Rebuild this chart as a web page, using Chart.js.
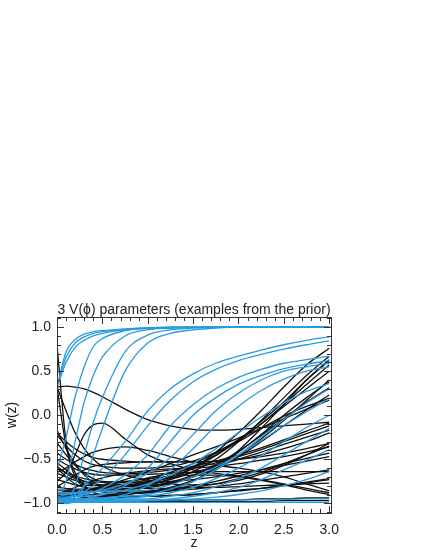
<!DOCTYPE html>
<html lang="en">
<head>
  <meta charset="UTF-8">
  <title>w(z) examples from the prior</title>
  <script src="https://cdn.jsdelivr.net/npm/chart.js"></script>
  <style>
    body { margin: 0; background: #fff; }
    #c { display: block; }
  </style>
</head>
<body>
  <canvas id="c" width="425" height="550"></canvas>
  <script>
    // redshift grid shared by every curve
    const Z = [0, 0.1, 0.2, 0.3, 0.4, 0.5, 0.75, 1, 1.25, 1.5, 1.75, 2, 2.25, 2.5, 2.75, 3];
    const X_TICKS = [0, 0.5, 1, 1.5, 2, 2.5, 3];
    const Y_TICKS = [-1, -0.5, 0, 0.5, 1];

    // blue curves
    const A1 = [0.32, 0.72, 0.86, 0.92, 0.95, 0.96, 0.98, 0.99, 1, 1, 1, 1, 1, 1, 1, 1];
    const A2 = [0.32, 0.66, 0.82, 0.89, 0.93, 0.95, 0.975, 0.99, 0.995, 1, 1, 1, 1, 1, 1, 1];
    const A3 = [0.32, 0.6, 0.77, 0.85, 0.9, 0.93, 0.97, 0.985, 0.99, 0.995, 1, 1, 1, 1, 1, 1];
    const P1 = [-0.62, -0.25, 0.21, 0.55, 0.78, 0.87, 0.96, 0.99, 1, 1, 1, 1, 1, 1, 1, 1];
    const P2 = [-0.97, -0.75, -0.3, 0.15, 0.45, 0.66, 0.9, 0.97, 0.99, 1, 1, 1, 1, 1, 1, 1];
    const P3 = [-1, -0.98, -0.8, -0.45, -0.08, 0.2, 0.72, 0.91, 0.97, 0.99, 1, 1, 1, 1, 1, 1];
    const P4 = [-1, -1, -0.97, -0.8, -0.45, -0.15, 0.5, 0.82, 0.93, 0.97, 0.99, 1, 1, 1, 1, 1];
    const C1 = [-0.97, -0.95, -0.9, -0.8, -0.7, -0.6, -0.3, 0.05, 0.3, 0.47, 0.59, 0.67, 0.74, 0.8, 0.85, 0.89];
    const C2 = [-0.98, -0.97, -0.93, -0.87, -0.8, -0.72, -0.45, -0.12, 0.17, 0.38, 0.52, 0.62, 0.69, 0.75, 0.8, 0.845];
    const C3 = [-0.95, -0.94, -0.92, -0.9, -0.87, -0.83, -0.68, -0.45, -0.12, 0.12, 0.3, 0.43, 0.52, 0.59, 0.63, 0.67];
    const C4 = [-0.97, -0.97, -0.96, -0.95, -0.93, -0.9, -0.8, -0.6, -0.3, 0, 0.2, 0.35, 0.45, 0.53, 0.58, 0.62];
    const C5 = [-0.9, -0.9, -0.89, -0.88, -0.87, -0.85, -0.78, -0.66, -0.48, -0.22, 0.05, 0.25, 0.4, 0.5, 0.55, 0.59];
    const C6 = [-0.99, -0.99, -0.98, -0.97, -0.96, -0.95, -0.9, -0.8, -0.62, -0.38, -0.12, 0.1, 0.28, 0.41, 0.5, 0.55];
    const C7 = [-0.93, -0.93, -0.92, -0.92, -0.91, -0.9, -0.85, -0.78, -0.68, -0.55, -0.38, -0.2, -0.02, 0.14, 0.27, 0.36];
    const C8 = [-0.96, -0.96, -0.95, -0.95, -0.94, -0.94, -0.92, -0.9, -0.84, -0.75, -0.62, -0.45, -0.25, -0.05, 0.14, 0.3];
    const C9 = [-0.88, -0.88, -0.88, -0.87, -0.87, -0.86, -0.86, -0.85, -0.79, -0.7, -0.59, -0.45, -0.29, -0.12, 0.04, 0.19];
    const C10 = [-0.98, -0.98, -0.97, -0.97, -0.96, -0.96, -0.94, -0.92, -0.88, -0.82, -0.72, -0.6, -0.46, -0.3, -0.14, 0];
    const C11 = [-0.95, -0.95, -0.95, -0.95, -0.95, -0.95, -0.95, -0.95, -0.92, -0.88, -0.81, -0.72, -0.6, -0.45, -0.3, -0.15];
    const C12 = [-0.99, -0.99, -0.99, -0.99, -0.98, -0.98, -0.98, -0.97, -0.95, -0.92, -0.88, -0.82, -0.73, -0.62, -0.51, -0.39];
    const C13 = [-0.97, -0.97, -0.97, -0.97, -0.97, -0.97, -0.97, -0.97, -0.96, -0.95, -0.93, -0.9, -0.86, -0.8, -0.73, -0.64];
    const C14 = [-0.96, -0.96, -0.96, -0.96, -0.96, -0.96, -0.96, -0.96, -0.96, -0.96, -0.96, -0.96, -0.96, -0.955, -0.95, -0.95];
    const C15 = [-0.99, -0.99, -0.99, -0.99, -0.99, -0.99, -0.99, -0.99, -0.99, -0.99, -0.99, -0.99, -0.99, -0.99, -0.99, -0.99];

    // black curves
    const K1 = [0.32, 0.33, 0.32, 0.3, 0.26, 0.21, 0.07, -0.05, -0.12, -0.16, -0.17, -0.16, -0.14, -0.12, -0.1, -0.08];
    const K2 = [0.8, -0.3, -0.65, -0.8, -0.85, -0.87, -0.88, -0.87, -0.85, -0.82, -0.78, -0.72, -0.65, -0.55, -0.45, -0.35];
    const K3 = [0.32, -0.35, -0.7, -0.82, -0.88, -0.9, -0.92, -0.92, -0.91, -0.9, -0.88, -0.86, -0.83, -0.8, -0.76, -0.72];
    const K4 = [-0.75, -0.65, -0.45, -0.22, -0.11, -0.09, -0.27, -0.45, -0.55, -0.62, -0.66, -0.69, -0.73, -0.78, -0.83, -0.88];
    const K5 = [-0.65, -0.6, -0.53, -0.47, -0.42, -0.39, -0.36, -0.4, -0.47, -0.53, -0.57, -0.6, -0.64, -0.7, -0.78, -0.86];
    const K6 = [-0.17, -0.38, -0.55, -0.68, -0.76, -0.8, -0.83, -0.82, -0.78, -0.7, -0.58, -0.42, -0.22, 0, 0.2, 0.38];
    const K7 = [-0.31, -0.45, -0.57, -0.66, -0.72, -0.76, -0.8, -0.8, -0.77, -0.7, -0.6, -0.47, -0.3, -0.12, 0.06, 0.23];
    const K8 = [-0.43, -0.5, -0.56, -0.6, -0.63, -0.65, -0.66, -0.65, -0.62, -0.58, -0.52, -0.45, -0.37, -0.28, -0.18, -0.09];
    const K9 = [-0.9, -0.9, -0.89, -0.88, -0.87, -0.86, -0.84, -0.8, -0.72, -0.6, -0.42, -0.2, 0.05, 0.32, 0.57, 0.76];
    const K10 = [-0.95, -0.93, -0.9, -0.87, -0.84, -0.82, -0.8, -0.78, -0.73, -0.64, -0.5, -0.3, -0.06, 0.2, 0.45, 0.67];
    const K11 = [-0.6, -0.7, -0.78, -0.82, -0.84, -0.85, -0.86, -0.86, -0.83, -0.75, -0.6, -0.4, -0.15, 0.12, 0.4, 0.63];
    const K12 = [-0.85, -0.85, -0.85, -0.84, -0.83, -0.82, -0.8, -0.77, -0.7, -0.6, -0.46, -0.29, -0.1, 0.1, 0.3, 0.5];
    const K13 = [-0.97, -0.96, -0.95, -0.94, -0.93, -0.92, -0.9, -0.87, -0.82, -0.74, -0.62, -0.46, -0.27, -0.06, 0.17, 0.4];
    const K14 = [-0.54, -0.62, -0.7, -0.75, -0.78, -0.8, -0.81, -0.8, -0.76, -0.68, -0.56, -0.41, -0.23, -0.04, 0.15, 0.31];
    const K15 = [-0.66, -0.7, -0.74, -0.77, -0.79, -0.8, -0.78, -0.73, -0.65, -0.55, -0.43, -0.3, -0.15, -0.01, 0.1, 0.19];
    const K16 = [-0.89, -0.88, -0.87, -0.85, -0.83, -0.8, -0.73, -0.64, -0.55, -0.45, -0.36, -0.26, -0.15, -0.04, 0.07, 0.17];
    const K17 = [-0.73, -0.76, -0.79, -0.8, -0.8, -0.79, -0.76, -0.71, -0.66, -0.6, -0.54, -0.47, -0.39, -0.3, -0.21, -0.12];
    const K18 = [-0.81, -0.75, -0.68, -0.62, -0.58, -0.56, -0.54, -0.53, -0.53, -0.53, -0.52, -0.5, -0.45, -0.38, -0.3, -0.2];
    const K19 = [-0.94, -0.92, -0.9, -0.88, -0.86, -0.84, -0.8, -0.76, -0.71, -0.65, -0.58, -0.5, -0.42, -0.33, -0.25, -0.17];
    const K20 = [-0.2, -0.3, -0.38, -0.44, -0.48, -0.5, -0.52, -0.53, -0.53, -0.53, -0.52, -0.5, -0.47, -0.43, -0.38, -0.32];
    const K21 = [-0.89, -0.86, -0.82, -0.78, -0.74, -0.71, -0.66, -0.63, -0.61, -0.6, -0.58, -0.55, -0.51, -0.47, -0.42, -0.36];
    const K22 = [-0.97, -0.96, -0.95, -0.94, -0.93, -0.92, -0.9, -0.87, -0.84, -0.8, -0.75, -0.69, -0.62, -0.55, -0.49, -0.43];
    const K23 = [-0.6, -0.65, -0.69, -0.72, -0.74, -0.75, -0.76, -0.76, -0.75, -0.73, -0.7, -0.66, -0.62, -0.57, -0.52, -0.47];
    const K24 = [-0.92, -0.92, -0.91, -0.91, -0.9, -0.9, -0.89, -0.88, -0.86, -0.84, -0.81, -0.78, -0.74, -0.7, -0.66, -0.62];
    const K25 = [-0.5, -0.56, -0.61, -0.65, -0.67, -0.68, -0.68, -0.67, -0.66, -0.65, -0.64, -0.64, -0.64, -0.64, -0.64, -0.64];
    const K26 = [-0.95, -0.95, -0.95, -0.94, -0.94, -0.94, -0.93, -0.92, -0.91, -0.9, -0.88, -0.85, -0.83, -0.8, -0.77, -0.73];
    const K27 = [-0.82, -0.83, -0.84, -0.84, -0.84, -0.84, -0.84, -0.83, -0.83, -0.82, -0.82, -0.81, -0.8, -0.79, -0.78, -0.77];
    const K28 = [-0.58, -0.66, -0.72, -0.75, -0.76, -0.76, -0.75, -0.72, -0.7, -0.68, -0.68, -0.7, -0.74, -0.79, -0.85, -0.9];
    const K29 = [-0.97, -0.97, -0.97, -0.97, -0.97, -0.97, -0.97, -0.97, -0.97, -0.96, -0.96, -0.96, -0.95, -0.95, -0.94, -0.94];
    const K30 = [-0.99, -0.99, -0.99, -0.99, -0.99, -0.99, -0.99, -0.98, -0.98, -0.98, -0.98, -0.98, -0.98, -0.97, -0.97, -0.97];
    const K31 = [0.32, 0.05, -0.2, -0.38, -0.5, -0.58, -0.68, -0.74, -0.78, -0.79, -0.78, -0.74, -0.67, -0.57, -0.45, -0.32];
    const K32 = [-0.22, -0.35, -0.45, -0.52, -0.56, -0.58, -0.6, -0.6, -0.58, -0.52, -0.42, -0.28, -0.1, 0.12, 0.35, 0.57];
    const K33 = [-0.88, -0.87, -0.86, -0.85, -0.84, -0.83, -0.8, -0.75, -0.68, -0.58, -0.45, -0.28, -0.07, 0.15, 0.4, 0.62];

    const blueSeries = [A1, A2, A3, P1, P2, P3, P4, C1, C2, C3, C4, C5, C6, C7, C8, C9, C10, C11, C12, C13, C14, C15];
    const blackSeries = [K1, K2, K3, K4, K5, K6, K7, K8, K9, K10, K11, K12, K13, K14, K15, K16, K17, K18, K19, K20,
      K21, K22, K23, K24, K25, K26, K27, K28, K29, K30, K31, K32, K33];

    const BLUE = 'rgb(40,155,225)';
    const BLACK = '#111';
    const FONT = '"Liberation Sans", Arial, sans-serif';

    function toDataset(vals, color) {
      return {
        data: vals.map((w, i) => ({ x: Z[i], y: w })),
        borderColor: color,
        borderWidth: 1.3,
        pointRadius: 0,
        fill: false,
        cubicInterpolationMode: 'monotone'
      };
    }

    const datasets = blueSeries.map(s => toDataset(s, BLUE))
      .concat(blackSeries.map(s => toDataset(s, BLACK)));

    function fmt(v) {
      return (v < 0 ? '\u2212' : '') + Math.abs(v).toFixed(1);
    }

    // IDL style box with inward ticks plus the title and axis names
    const idlFrame = {
      id: 'idlFrame',
      afterDatasetsDraw(chart) {
        const { ctx, chartArea: a, scales: { x, y } } = chart;
        ctx.save();
        ctx.strokeStyle = '#333';
        ctx.lineWidth = 1;
        ctx.beginPath();
        for (let i = 0; i <= 30; i++) {
          const px = Math.round(x.getPixelForValue(i / 10)) + 0.5;
          const len = i % 5 === 0 ? 7 : 4;
          ctx.moveTo(px, a.bottom); ctx.lineTo(px, a.bottom - len);
          ctx.moveTo(px, a.top); ctx.lineTo(px, a.top + len);
        }
        for (let i = -11; i <= 11; i++) {
          const py = Math.round(y.getPixelForValue(i / 10)) + 0.5;
          const len = i % 5 === 0 ? 7 : 4;
          ctx.moveTo(a.left, py); ctx.lineTo(a.left + len, py);
          ctx.moveTo(a.right, py); ctx.lineTo(a.right - len, py);
        }
        ctx.stroke();
        ctx.strokeRect(Math.round(a.left) + 0.5, Math.round(a.top) + 0.5,
          Math.round(a.right - a.left), Math.round(a.bottom - a.top));

        ctx.fillStyle = '#222';
        ctx.font = '14px ' + FONT;
        ctx.textAlign = 'center';
        ctx.textBaseline = 'alphabetic';
        ctx.fillText('3 V(\u03d5) parameters (examples from the prior)', (a.left + a.right) / 2, a.top - 3);
        ctx.textBaseline = 'middle';
        ctx.fillText('z', (a.left + a.right) / 2, 543);
        ctx.translate(12, (a.top + a.bottom) / 2);
        ctx.rotate(-Math.PI / 2);
        ctx.fillText('w(z)', 0, 0);
        ctx.restore();
      }
    };

    new Chart(document.getElementById('c'), {
      type: 'line',
      data: { datasets },
      plugins: [idlFrame],
      options: {
        responsive: false,
        animation: false,
        devicePixelRatio: 1,
        layout: { padding: { top: 317, right: 94, bottom: 0, left: 0 } },
        plugins: { legend: { display: false }, tooltip: { enabled: false }, title: { display: false } },
        scales: {
          x: {
            type: 'linear',
            min: 0,
            max: 3.02,
            afterFit: s => { s.height = 37; },
            afterBuildTicks: s => { s.ticks = X_TICKS.map(v => ({ value: v })); },
            grid: { display: false, drawTicks: false },
            border: { display: false },
            ticks: { padding: 9, color: '#222', font: { family: FONT, size: 14 }, callback: v => fmt(v), maxRotation: 0 }
          },
          y: {
            type: 'linear',
            min: -1.11,
            max: 1.115,
            afterFit: s => { s.width = 57; },
            afterBuildTicks: s => { s.ticks = Y_TICKS.map(v => ({ value: v })); },
            grid: { display: false, drawTicks: false },
            border: { display: false },
            ticks: { padding: 6, color: '#222', font: { family: FONT, size: 14 }, callback: v => fmt(v) }
          }
        }
      }
    });
  </script>
</body>
</html>
